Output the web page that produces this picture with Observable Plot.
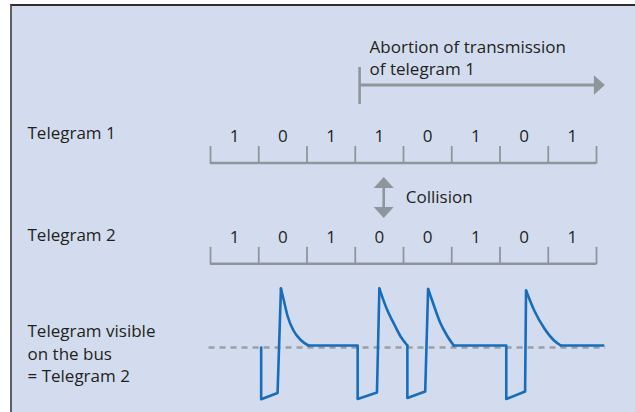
<!DOCTYPE html>
<html>
<head>
<meta charset="utf-8">
<script src="https://cdn.jsdelivr.net/npm/d3@7"></script>
<script src="https://cdn.jsdelivr.net/npm/@observablehq/plot@0.6"></script>
<style>
  html, body { margin: 0; padding: 0; background: #ffffff; }
  #wrap { position: relative; width: 635px; height: 412px; overflow: hidden; background: #ffffff; }
  #panel { position: absolute; left: 10px; top: 4px; right: 0; bottom: 0;
           background: #d3dcef; border-top: 2px solid #2e2e2e; border-left: 2px solid #5e5e5e; }
  #wrap svg { position: absolute; left: 0; top: 0; }
</style>
</head>
<body>
<div id="wrap"><div id="panel"></div></div>
<script>
// ---- data ----
const telegram1Bits = [1, 0, 1, 1, 0, 1, 0, 1];
const telegram2Bits = [1, 0, 1, 0, 0, 1, 0, 1];
const rowLabels = ["Telegram 1", "Telegram 2"];
const busLabel = "Telegram visible\non the bus\n= Telegram 2";
const abortLabel = "Abortion of transmission\nof telegram 1";
const collisionLabel = "Collision";
const abortStartBit = 3.09;      // where transmission of telegram 1 is aborted (bit time)
const referenceLevel = -2;       // dashed idle reference of the bus signal
// bus signal, in bit time (t) and signal level (v); sharp edges and decaying overshoots
const waveEdges = [
  [[1.05, -2], [1.05, -53.7], [1.39, -47.5], [1.46, 57]],
  [[2.03, 0], [3.05, 0], [3.05, -53.5], [3.45, -47], [3.50, 57]],
  [[4.08, 0], [4.08, -52.5], [4.45, -46], [4.51, 56.5]],
  [[5.04, 0], [6.13, 0], [6.13, -53.5], [6.52, -46], [6.54, 55]],
  [[7.26, 0], [8.14, 0]]
];
const waveDecays = [
  [[1.46, 57], [1.52, 45], [1.60, 29], [1.72, 15], [1.87, 5.5], [2.03, 0]],
  [[3.50, 57], [3.65, 37], [3.82, 20], [3.94, 9], [4.08, 0]],
  [[4.51, 56.5], [4.63, 40], [4.75, 24], [4.90, 10], [5.04, 0]],
  [[6.54, 55], [6.71, 35], [6.92, 17], [7.12, 5], [7.26, 0]]
];

// ---- layout & style ----
const W = 635, H = 412;
const xScale = {domain: [0, 8], range: [210, 596], axis: null};
const gray = "#8e969b";
const ink = "#231f20";
const blue = "#176dbb";
const font = {fontFamily: "'Open Sans', Lato, sans-serif", fontSize: "17px"};
const rows = [
  {bits: telegram1Bits, label: rowLabels[0], base: 162.5, digitY: 136.5, labelY: 133},
  {bits: telegram2Bits, label: rowLabels[1], base: 263.3, digitY: 237, labelY: 235}
];

// custom filled arrowheads
const headRight = {draw(c, size) { const r = Math.sqrt(size / Math.PI);
  c.moveTo(r * 0.55, 0); c.lineTo(-r * 0.55, -r * 0.97); c.lineTo(-r * 0.55, r * 0.97); c.closePath(); }};
const headUp = {draw(c, size) { const r = Math.sqrt(size / Math.PI);
  c.moveTo(0, -r * 0.55); c.lineTo(r, r * 0.55); c.lineTo(-r, r * 0.55); c.closePath(); }};
const headDown = {draw(c, size) { const r = Math.sqrt(size / Math.PI);
  c.moveTo(0, r * 0.55); c.lineTo(r, -r * 0.55); c.lineTo(-r, -r * 0.55); c.closePath(); }};

const rowMarks = rows.flatMap(r => [
  Plot.ruleY([r.base], {x1: 0, x2: 8, stroke: gray, strokeWidth: 2.4}),
  Plot.ruleX(d3.range(9), {y1: r.base - 16.5, y2: r.base + 1, stroke: gray, strokeWidth: 1.8}),
  Plot.text(r.bits, {x: (d, i) => i + 0.5, y: r.digitY, text: d => String(d), fill: ink}),
  Plot.text([r.label], {frameAnchor: "left", dx: 27, y: r.labelY, text: d => d, textAnchor: "start", fill: ink})
]);

const collisionX = 3.59;
const plotA = Plot.plot({
  width: W, height: H, margin: 0,
  x: xScale,
  y: {domain: [0, H], range: [0, H], axis: null},
  style: {background: "transparent", ...font},
  marks: [
    ...rowMarks,
    // abort arrow
    Plot.ruleX([abortStartBit], {y1: 67, y2: 104, stroke: gray, strokeWidth: 2.6}),
    Plot.ruleY([84.5], {x1: abortStartBit, x2: 7.97, stroke: gray, strokeWidth: 2.8}),
    Plot.dot([8.06], {x: d => d, y: 84.5, r: 10, symbol: headRight, fill: gray, stroke: "none"}),
    Plot.text([abortLabel], {x: abortStartBit, dx: 10, y: 56.5, text: d => d, textAnchor: "start", lineHeight: 1.3, fill: ink}),
    // collision arrow
    Plot.ruleX([collisionX], {y1: 186, y2: 208, stroke: gray, strokeWidth: 2.6}),
    Plot.dot([collisionX], {x: d => d, y: 182, r: 10, symbol: headUp, fill: gray, stroke: "none"}),
    Plot.dot([collisionX], {x: d => d, y: 212, r: 10, symbol: headDown, fill: gray, stroke: "none"}),
    Plot.text([collisionLabel], {x: collisionX, dx: 22, y: 197.5, text: d => d, textAnchor: "start", fill: ink}),
    // bus label
    Plot.text([busLabel], {frameAnchor: "left", dx: 27, y: 352, text: d => d, textAnchor: "start", lineHeight: 1.3, fill: ink})
  ]
});

const edgePts = waveEdges.flatMap((pts, k) => pts.map(([t, v]) => ({seg: k, t, v})));
const decayPts = waveDecays.flatMap((pts, k) => pts.map(([t, v]) => ({seg: k, t, v})));
const plotB = Plot.plot({
  width: W, height: H, margin: 0,
  x: xScale,
  y: {domain: [-60, 60], range: [405, 285], axis: null},
  style: {background: "transparent", ...font},
  marks: [
    Plot.ruleY([referenceLevel], {x1: -0.03, x2: 8.19, stroke: "#9a9fa4", strokeWidth: 2.6, strokeDasharray: "6,5"}),
    Plot.line(edgePts, {x: "t", y: "v", z: "seg", stroke: blue, strokeWidth: 2.6}),
    Plot.line(decayPts, {x: "t", y: "v", z: "seg", stroke: blue, strokeWidth: 2.6, curve: "monotone-x"})
  ]
});

const wrap = document.getElementById("wrap");
wrap.appendChild(plotA);
wrap.appendChild(plotB);
</script>
</body>
</html>
